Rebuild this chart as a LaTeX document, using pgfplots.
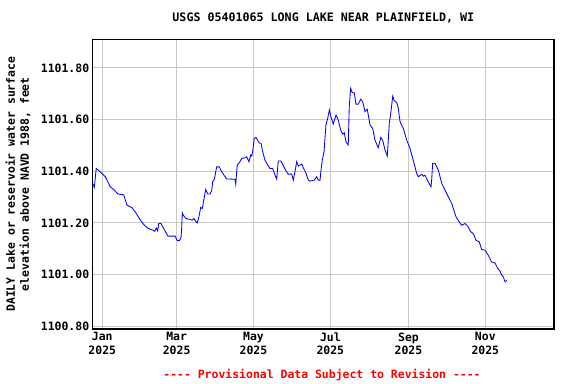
\documentclass[border=0pt]{standalone}
\usepackage{pgfplots}
\pgfplotsset{compat=1.18}
\usepackage{fontspec}
\setmainfont{DejaVu Sans Mono}
\definecolor{gridgray}{RGB}{200,200,200}
\definecolor{usgsred}{RGB}{255,0,0}
\newcommand\hy{\mbox{-}}
\begin{document}
\begin{tikzpicture}[x=1bp,y=1bp]
\begin{axis}[
  at={(92.7bp,55bp)}, anchor=south west,
  scale only axis,
  width=461.3bp, height=289.7bp,
  xmin=-7.6, xmax=358.5,
  ymin=1100.7895, ymax=1101.911,
  xtick={0,59,120,181,243,304},
  xticklabels={Jan\\2025,Mar\\2025,May\\2025,Jul\\2025,Sep\\2025,Nov\\2025},
  xticklabel style={align=center, font=\fontsize{11.5}{13.5}\selectfont\bfseries},
  ytick={1100.8,1101.0,1101.2,1101.4,1101.6,1101.8},
  yticklabels={1100.80,1101.00,1101.20,1101.40,1101.60,1101.80},
  yticklabel style={font=\fontsize{11.5}{13.5}\selectfont\bfseries},
  major tick length=0pt,
  grid=major,
  major grid style={gridgray, line width=1bp},
  axis line style={black, line width=1.2bp},
  ylabel={DAILY Lake or reservoir water surface\\elevation above NAVD 1988, feet},
  ylabel style={align=center, font=\fontsize{11.5}{14}\selectfont\bfseries, at={(axis description cs:-0.162,0.5)}, anchor=center},
  title={USGS 05401065 LONG LAKE NEAR PLAINFIELD, WI},
  title style={font=\fontsize{11.7}{13.5}\selectfont\bfseries, at={(axis description cs:0.5,1)}, yshift=12bp, anchor=base},
  clip=true,
]
\addplot[blue, line width=0.85bp] table {
x y
-7.6 1101.353
-6.3 1101.338
-4.8 1101.411
-1.6 1101.398
2.4 1101.379
6.3 1101.340
9.0 1101.330
12.5 1101.312
17.0 1101.309
19.6 1101.269
23.6 1101.259
26.7 1101.239
30.2 1101.211
32.9 1101.194
36.3 1101.179
40.2 1101.172
41.6 1101.168
42.9 1101.181
44.0 1101.169
44.8 1101.198
46.6 1101.198
48.7 1101.179
52.1 1101.149
57.9 1101.149
59.3 1101.133
61.1 1101.131
62.5 1101.144
63.0 1101.179
63.5 1101.239
64.3 1101.230
66.4 1101.217
69.6 1101.214
71.2 1101.211
72.8 1101.217
74.4 1101.204
75.4 1101.200
76.7 1101.224
78.1 1101.260
79.4 1101.256
81.0 1101.301
82.1 1101.330
83.7 1101.312
85.5 1101.312
86.8 1101.324
87.6 1101.359
88.9 1101.369
90.8 1101.417
92.9 1101.417
94.8 1101.398
98.7 1101.370
101.3 1101.370
105.3 1101.369
105.9 1101.350
107.1 1101.424
109.3 1101.437
110.6 1101.450
113.3 1101.452
114.6 1101.456
116.4 1101.437
117.8 1101.463
118.6 1101.459
119.4 1101.478
120.6 1101.528
122.0 1101.531
124.6 1101.510
126.0 1101.508
127.3 1101.476
129.1 1101.443
131.3 1101.424
133.1 1101.411
135.2 1101.411
137.1 1101.385
138.4 1101.370
139.7 1101.440
141.8 1101.440
143.7 1101.421
145.8 1101.402
147.6 1101.389
150.3 1101.389
151.6 1101.366
152.9 1101.398
154.3 1101.437
155.6 1101.420
156.9 1101.424
158.3 1101.428
159.5 1101.414
161.7 1101.392
163.5 1101.366
164.8 1101.362
168.3 1101.366
170.2 1101.379
171.4 1101.366
172.8 1101.366
173.6 1101.405
174.6 1101.443
176.0 1101.476
177.5 1101.579
178.9 1101.605
180.2 1101.637
181.5 1101.611
183.3 1101.583
185.5 1101.618
187.3 1101.598
189.2 1101.560
190.8 1101.544
192.1 1101.549
193.4 1101.514
195.2 1101.502
196.0 1101.650
197.1 1101.721
198.4 1101.704
200.0 1101.704
201.3 1101.660
203.2 1101.660
205.1 1101.679
206.7 1101.669
208.5 1101.631
210.3 1101.640
212.5 1101.579
214.6 1101.566
216.4 1101.521
219.0 1101.491
221.0 1101.531
222.5 1101.521
224.4 1101.482
226.2 1101.459
227.8 1101.586
229.1 1101.631
230.5 1101.691
231.7 1101.673
233.7 1101.666
234.9 1101.644
236.3 1101.592
238.9 1101.566
241.6 1101.521
244.2 1101.489
246.8 1101.443
249.5 1101.392
250.8 1101.379
253.5 1101.388
254.8 1101.381
256.1 1101.385
258.7 1101.359
260.9 1101.340
261.4 1101.366
262.2 1101.431
264.0 1101.431
266.7 1101.405
269.4 1101.353
273.3 1101.314
277.3 1101.276
280.7 1101.224
283.3 1101.204
285.2 1101.191
287.9 1101.198
290.0 1101.188
292.4 1101.166
294.4 1101.159
296.6 1101.133
299.2 1101.127
301.1 1101.097
303.7 1101.095
306.3 1101.075
309.0 1101.049
311.7 1101.045
313.8 1101.024
315.6 1101.014
317.0 1100.998
318.3 1100.991
319.6 1100.972
320.9 1100.978
};
\end{axis}
\node[text=usgsred, font=\fontsize{11.5}{13.5}\selectfont\bfseries] at (322bp,9bp) {\hy\hy\hy\hy{} Provisional Data Subject to Revision \hy\hy\hy\hy};
\pgfresetboundingbox
\path[use as bounding box] (0,0) rectangle (576bp,384bp);
\end{tikzpicture}
\end{document}
